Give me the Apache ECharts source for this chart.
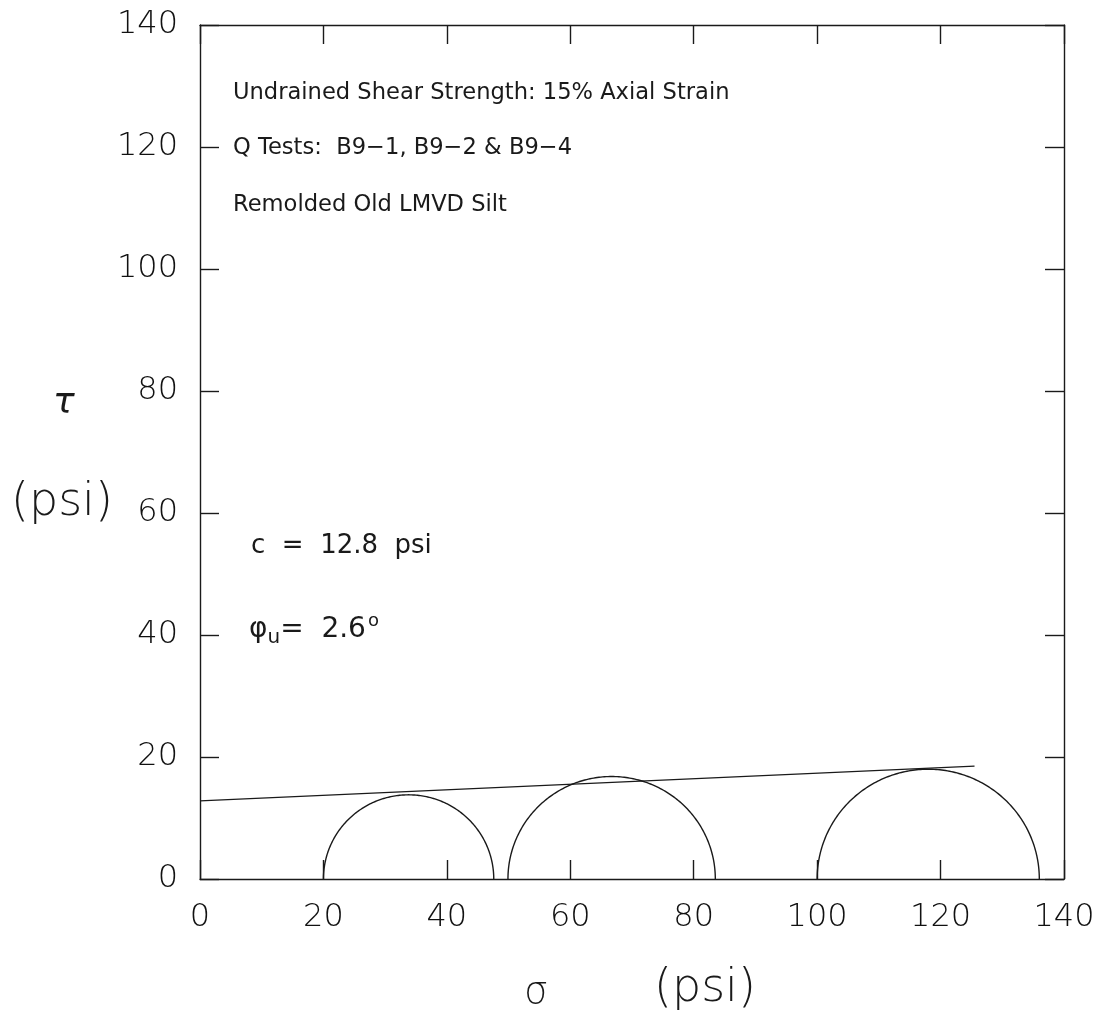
<!DOCTYPE html>
<html>
<head>
<meta charset="utf-8">
<script src="https://cdn.jsdelivr.net/npm/echarts@6/dist/echarts.min.js"></script>
<style>
html,body{margin:0;padding:0;background:#fff;}
#chart{width:1101px;height:1014px;}
</style>
</head>
<body>
<div id="chart"></div>
<script>
// Data
const xTicks = [0, 20, 40, 60, 80, 100, 120, 140];
const yTicks = [0, 20, 40, 60, 80, 100, 120, 140];
// Mohr circles: [sigma3, sigma1] (psi)
const circles = [[20.0, 47.6], [49.9, 83.5], [100.0, 136.0]];
// Failure envelope endpoints [sigma, tau]
const envelope = [[0, 12.8], [125.5, 18.5]];
const notes = ['Undrained Shear Strength: 15% Axial Strain', 'Q Tests:  B9\u22121, B9\u22122 & B9\u22124', 'Remolded Old LMVD Silt'];
const cohesion = 'c  =  12.8  psi';
const phiValue = '2.6';

const FONT = 'DejaVu Sans';
const INK = '#1a1a1a';
const chart = echarts.init(document.getElementById('chart'));

function axisBase() {
  return {
    type: 'value',
    min: 0, max: 140, interval: 20,
    axisLine: {show: true, onZero: false, lineStyle: {color: INK, width: 1.4}},
    axisTick: {show: true, inside: true, length: 19, lineStyle: {color: INK, width: 1.4}},
    splitLine: {show: false}
  };
}
const labelStyle = {fontFamily: FONT, fontSize: 32, fontWeight: 200, color: '#111'};

chart.setOption({
  animation: false,
  backgroundColor: '#fff',
  grid: {left: 200, top: 25, right: 37, bottom: 135, show: false},
  xAxis: [
    Object.assign(axisBase(), {position: 'bottom',
      axisLabel: Object.assign({show: true, margin: 23, formatter: v => xTicks.includes(v) ? String(v) : ''}, labelStyle)}),
    Object.assign(axisBase(), {position: 'top', axisLabel: {show: false}})
  ],
  yAxis: [
    Object.assign(axisBase(), {position: 'left',
      axisLabel: Object.assign({show: true, margin: 22, formatter: v => yTicks.includes(v) ? String(v) : ''}, labelStyle)}),
    Object.assign(axisBase(), {position: 'right', axisLabel: {show: false}})
  ],
  graphic: [
    {type: 'text', left: 233, top: 95 - 13, style: {text: notes[0], font: '22.6px "DejaVu Sans"', fill: INK}},
    {type: 'text', left: 233, top: 150 - 13, style: {text: notes[1], font: '22.6px "DejaVu Sans"', fill: INK}},
    {type: 'text', left: 233, top: 207 - 13, style: {text: notes[2], font: '22.6px "DejaVu Sans"', fill: INK}},
    {type: 'text', left: 251, top: 548 - 15, style: {text: cohesion, font: '26px "DejaVu Sans"', fill: INK}},
    {type: 'text', left: 249, top: 612, style: {
      text: '{phi|\u03c6}{sub|u}{t|=  ' + phiValue + '}{sup|o}',
      rich: {
        phi: {font: '28px "DejaVu Sans"', fill: INK, verticalAlign: 'middle'},
        sub: {font: '20px "DejaVu Sans"', fill: INK, verticalAlign: 'bottom', padding: [14, 0, 0, 0]},
        t: {font: '28px "DejaVu Sans"', fill: INK, verticalAlign: 'middle'},
        sup: {font: '18px "DejaVu Sans"', fill: INK, verticalAlign: 'top', padding: [0, 0, 18, 2]}
      }}},
    {type: 'text', left: 53, top: 386, style: {text: '\u03c4', font: 'italic 200 36px "DejaVu Sans"', fill: INK}},
    {type: 'text', left: 11, top: 480, style: {text: '(psi)', font: '200 46px "DejaVu Sans"', fill: INK}},
    {type: 'text', left: 524, top: 974, style: {text: '\u03c3', font: '200 38px "DejaVu Sans"', fill: INK}},
    {type: 'text', left: 654, top: 966, style: {text: '(psi)', font: '200 46px "DejaVu Sans"', fill: INK}}
  ],
  series: [
    {
      type: 'custom',
      coordinateSystem: 'cartesian2d',
      data: circles,
      renderItem: function (params, api) {
        const s3 = api.value(0), s1 = api.value(1);
        const c = (s1 + s3) / 2, r = (s1 - s3) / 2;
        const pts = [];
        for (let i = 0; i <= 180; i++) {
          const a = Math.PI * i / 180;
          pts.push(api.coord([c - r * Math.cos(a), r * Math.sin(a)]));
        }
        return {type: 'polyline', shape: {points: pts}, style: {stroke: INK, lineWidth: 1.4, fill: null}};
      },
      silent: true
    },
    {
      type: 'line',
      data: envelope,
      symbol: 'none',
      lineStyle: {color: INK, width: 1.4},
      silent: true
    }
  ]
});
</script>
</body>
</html>
